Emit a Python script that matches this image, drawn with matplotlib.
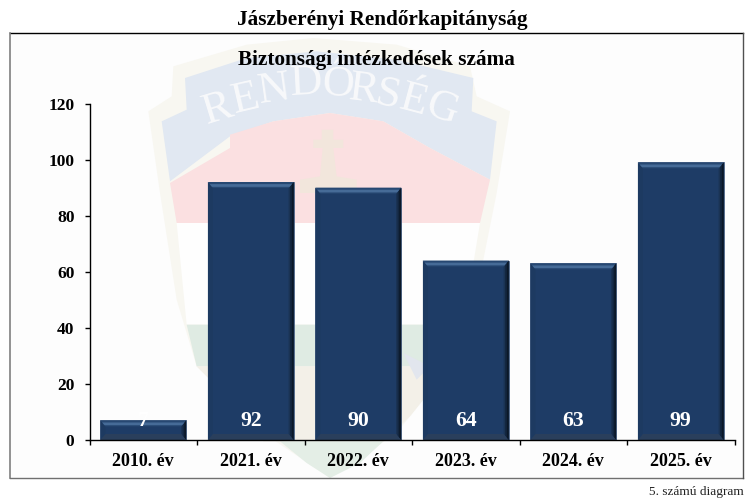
import matplotlib
matplotlib.use("Agg")
import matplotlib.pyplot as plt
from matplotlib.patches import Polygon, Rectangle

categories = ["2010. év", "2021. év", "2022. év", "2023. év", "2024. év", "2025. év"]
values = [7, 92, 90, 64, 63, 99]
y_ticks = [0, 20, 40, 60, 80, 100, 120]
page_title = "Jászberényi Rendőrkapitányság"
chart_title = "Biztonsági intézkedések száma"
footer = "5. számú diagram"
watermark_word = "RENDŐRSÉG"

W, H = 749, 500
plt.rcParams["font.family"] = ["Liberation Serif", "DejaVu Serif"]
fig = plt.figure(figsize=(W / 100, H / 100), dpi=100, facecolor="white")

# ---------- frame and watermark, in pixel coordinates ----------
bg = fig.add_axes([0, 0, 1, 1], zorder=0)
bg.set_xlim(0, W)
bg.set_ylim(H, 0)
bg.axis("off")
frame = Rectangle((10, 32.5), 732.5, 445, fc="#fdfdfd", ec="none", zorder=0)
bg.add_patch(frame)


def z(points):
    return [(130 + x / 3, 33 + y / 3) for x, y in points]


def shape(points, color, order):
    bg.add_patch(Polygon(z(points), closed=True, fc=color, ec="none", zorder=order))


shape([(130, 100), (350, 35), (550, 15), (800, 35), (1020, 100), (1040, 190), (1140, 235),
       (1100, 480), (1060, 680), (1000, 900), (960, 1000), (800, 1200), (600, 1335),
       (400, 1200), (240, 1040), (200, 1000), (140, 800), (90, 480), (55, 235), (125, 190)],
      "#f8f7f1", 1)
shape([(165, 135), (350, 75), (560, 55), (800, 80), (1030, 135), (1025, 235), (1100, 265),
       (1080, 440), (900, 345), (760, 265), (600, 240), (430, 265), (300, 310), (120, 445),
       (95, 265), (170, 230)], "#e1e8f2", 2)
shape([(120, 450), (300, 345), (300, 305), (430, 265), (600, 240), (760, 265), (900, 345),
       (1080, 440), (1050, 570), (140, 570)], "#fbe0e1", 2)
shape([(140, 570), (1050, 570), (1000, 875), (170, 875)], "#fefefe", 2)
shape([(170, 875), (1000, 875), (960, 1000), (200, 1000)], "#dfebe3", 2)
shape([(820, 960), (900, 1000), (860, 1040)], "#e2e6ee", 3)
shape([(200, 1000), (960, 1000), (840, 1150), (760, 1225), (400, 1225), (240, 1040)], "#f3f0e8", 2)
shape([(450, 1225), (760, 1225), (690, 1290), (600, 1335), (530, 1290)], "#e4eee6", 3)
shape([(575, 290), (610, 290), (610, 320), (640, 320), (640, 345), (610, 345), (620, 430),
       (680, 440), (680, 480), (510, 480), (510, 440), (570, 430), (578, 345), (550, 345), (550, 320), (575, 320)],
      "#f2e6dc", 3)

letter_x = [262, 345, 432, 530, 622, 700, 775, 852, 935]
letter_y = [228, 198, 172, 152, 155, 170, 188, 205, 228]
letter_r = [17, 13, 8, 3, -3, -7, -11, -15, -19]
for ch, lx, ly, lr in zip(watermark_word, letter_x, letter_y, letter_r):
    (px, py), = z([(lx, ly)])
    bg.text(px, py, ch, fontsize=32, color="#f8f9fb", rotation=lr, ha="center", va="center",
            rotation_mode="anchor", zorder=4)

for xs, ys, color, lw in [((10, 742.5), (32.5, 32.5), "black", 1.0),
                          ((10, 10), (32.5, 477.5), "#808080", 1.2),
                          ((10, 742.5), (477.5, 477.5), "#707070", 1.0),
                          ((742.5, 742.5), (32.5, 477.5), "#505050", 1.0)]:
    bg.plot(xs, ys, color=color, lw=lw, zorder=6, solid_capstyle="projecting")

bg.text(382, 19.5, page_title, fontsize=15.3, fontweight="bold", ha="center", va="center", color="black", zorder=7)
bg.text(376, 60, chart_title, fontsize=15.3, fontweight="bold", ha="center", va="center", color="black", zorder=7)
bg.text(743.5, 491.5, footer, fontsize=9.6, ha="right", va="center", color="#222222", zorder=7)

# ---------- chart ----------
AX_L, AX_R, AX_T, AX_B = 89.5, 734.5, 103.5, 440
ax = fig.add_axes([AX_L / W, 1 - AX_B / H, (AX_R - AX_L) / W, (AX_B - AX_T) / H], zorder=1)
ax.patch.set_alpha(0)
positions = list(range(len(categories)))
bars = ax.bar(positions, values, width=0.797, color="#1e3c66", edgecolor="#52698a", linewidth=0.6, zorder=2)
ax.set_xlim(-0.5, len(categories) - 0.5)
ax.set_ylim(0, 120)

dx = 5 * (len(categories)) / (AX_R - AX_L)
dy = 6 * 120 / (AX_B - AX_T)
for bar in bars:
    x0, x1 = bar.get_x(), bar.get_x() + bar.get_width()
    y1 = bar.get_height()
    ax.add_patch(Polygon([(x1, 0), (x1, y1), (x1 - dx, y1 - dy), (x1 - dx, dy)], fc="#1a3354", ec="none", zorder=3))
    ax.add_patch(Polygon([(x1, 0), (x1, y1), (x1 - dx * .7, y1 - dy * .7), (x1 - dx * .7, dy * .7)], fc="#13263f", ec="none", zorder=3))
    ax.add_patch(Polygon([(x1, 0), (x1, y1), (x1 - dx * .35, y1 - dy * .35), (x1 - dx * .35, dy * .35)], fc="#0b1828", ec="none", zorder=3))
    ax.add_patch(Polygon([(x0, 0), (x0, y1), (x0 + dx, y1 - dy), (x0 + dx, dy)], fc="#1d3a61", ec="none", zorder=3))
    ax.add_patch(Polygon([(x0, 0), (x1, 0), (x1 - dx, dy), (x0 + dx, dy)], fc="#2a3f5c", ec="none", zorder=3))
    ax.add_patch(Polygon([(x0, y1), (x1, y1), (x1 - dx, y1 - dy), (x0 + dx, y1 - dy)], fc="#274872", ec="none", zorder=3))
    ax.add_patch(Polygon([(x0 + dx * .35, y1 - dy * .35), (x1 - dx * .35, y1 - dy * .35), (x1 - dx * .8, y1 - dy * .8), (x0 + dx * .8, y1 - dy * .8)],
                         fc="#466b97", ec="none", zorder=3))

for pos, val in zip(positions, values):
    ax.annotate(str(val), (pos, 0), xytext=(0, 13.4), textcoords="offset points", ha="center", va="center",
                fontsize=15.7, fontweight="bold", color="white", zorder=5)

for side in ("top", "right"):
    ax.spines[side].set_visible(False)
for side in ("left", "bottom"):
    ax.spines[side].set_color("black")
    ax.spines[side].set_linewidth(1.0)
    ax.spines[side].set_zorder(6)

ax.set_yticks(y_ticks)
ax.set_xticks(positions)
ax.set_xticklabels(categories)
ax.set_xticks([p - 0.5 for p in positions] + [positions[-1] + 0.5], minor=True)
ax.tick_params(axis="x", which="major", length=0, pad=9, labelsize=13, labelcolor="black")
ax.tick_params(axis="x", which="minor", length=3.8, width=1.0, color="black")
ax.tick_params(axis="y", length=3.8, width=1.0, pad=7, labelsize=12.6, labelcolor="black")
for lab in ax.get_xticklabels() + ax.get_yticklabels():
    lab.set_fontweight("bold")

fig.savefig("out.png", dpi=100, facecolor="white")
